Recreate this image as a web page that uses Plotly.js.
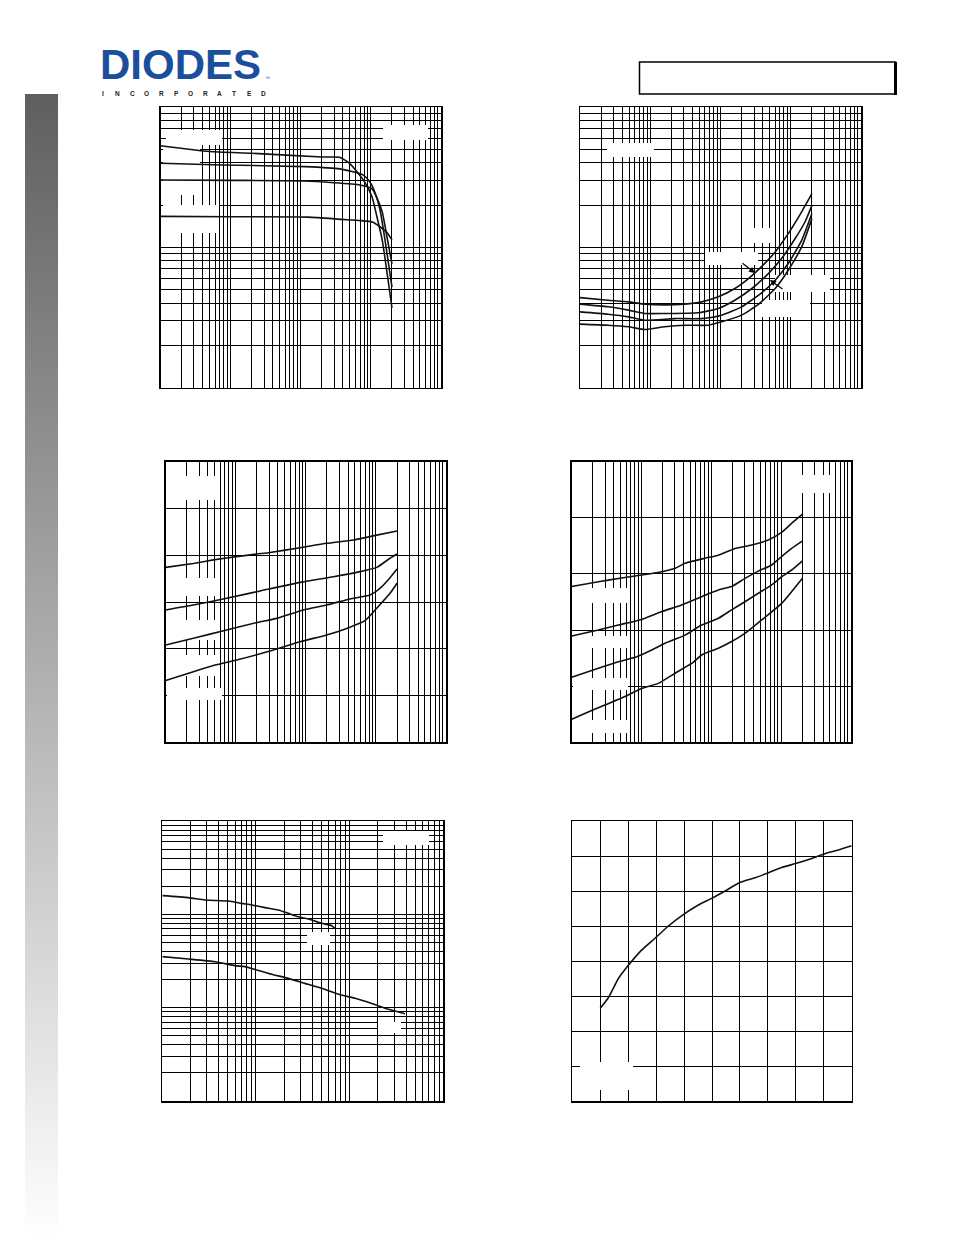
<!DOCTYPE html>
<html><head><meta charset="utf-8">
<script src="https://cdn.plot.ly/plotly-3.0.1.min.js"></script>
<style>
html,body{margin:0;padding:0;background:#fff;}
#wrap{position:relative;width:954px;height:1235px;overflow:hidden;}
#side{position:absolute;left:25px;top:94px;width:33px;height:1141px;background:linear-gradient(#5f5f5f,#fefefe);}
#chart{position:absolute;left:0;top:0;width:954px;height:1235px;}
</style></head>
<body><div id="wrap"><div id="side"></div><div id="chart"></div></div>
<script>
// ---------- DATA ----------
// Chart 1 (log-log): four curves
const c1_ax = [0.1,0.5,2,20,36,50,65,83,104,122,145,170,200];
const c1_ay = [530,482,468,440,438,395,340,288,228,165,113,66,37];
const c1_bx = [0.1,0.75,11.5,36,77,97,115,135,159,200];
const c1_by = [397,386,376,362,328,292,244,185,113,52];
const c1_cx = [0.1,1,11.5,70,104,122,145,170,200];
const c1_cy = [302,300,297,278,261,225,179,118,76];
const c1_dx = [0.1,1,12.8,38.5,70,107,135,170,200];
const c1_dy = [166,165,164,158,155,151,140,127,113];

// Chart 2 (log-log): four curves
const c2_ax = [0.1,0.25,0.49,0.84,1.6,3.1,5.4,9.3,16,25,38,60,92,143,200];
const c2_ay = [0.0437,0.0419,0.0408,0.0393,0.0388,0.0393,0.0408,0.0443,0.0508,0.0598,0.0724,0.0926,0.125,0.179,0.241];
const c2_bx = [0.1,0.25,0.49,0.84,1.6,4.8,9.3,16,28,48,74,115,160,200];
const c2_by = [0.0393,0.0376,0.0356,0.0337,0.0337,0.0341,0.0366,0.0419,0.0508,0.0649,0.083,0.115,0.152,0.199];
const c2_cx = [0.1,0.25,0.49,0.84,2.25,5.4,10.4,20,38.5,60,92,143,200];
const c2_cy = [0.0346,0.0333,0.0319,0.0302,0.031,0.031,0.0328,0.0376,0.0473,0.0582,0.0765,0.112,0.174];
const c2_dx = [0.1,0.25,0.49,0.84,1.6,3.1,6.7,10.4,20,35,60,92,143,200];
const c2_dy = [0.0283,0.0278,0.0271,0.0259,0.0271,0.0278,0.0278,0.0294,0.0328,0.0393,0.0508,0.0686,0.1005,0.160];

// Chart 3 (log x, linear y)
const c3_ax = [0.1,0.248,0.479,1.03,1.99,3.08,8.26,19.8,47.6,102.5,200];
const c3_ay = [0.748,0.765,0.780,0.794,0.805,0.812,0.832,0.851,0.865,0.886,0.904];
const c3_bx = [0.1,0.248,0.741,2.22,8.26,24.7,59.3,102.5,159,200];
const c3_by = [0.566,0.587,0.616,0.647,0.684,0.708,0.730,0.748,0.787,0.805];
const c3_cx = [0.1,0.248,0.741,1.99,3.84,9.2,19.8,42.7,82.4,114,159,200];
const c3_cy = [0.416,0.445,0.480,0.512,0.530,0.566,0.587,0.613,0.630,0.658,0.704,0.741];
const c3_dx = [0.1,0.248,0.479,1.03,3.08,8.26,19.8,38.3,69.8,102.5,159,200];
const c3_dy = [0.264,0.302,0.328,0.352,0.390,0.430,0.459,0.487,0.520,0.573,0.637,0.680];

// Chart 4 (log x, linear y)
const c4_ax = [0.1,0.241,0.466,1.0,1.95,3.02,4.2,8.1,12.6,21.8,37.8,65.5,101.6,141,200];
const c4_ay = [0.555,0.572,0.584,0.596,0.608,0.620,0.638,0.656,0.667,0.691,0.703,0.721,0.748,0.780,0.812];
const c4_bx = [0.1,0.241,0.466,1.0,1.95,3.76,7.28,12.6,19.5,30.3,47.1,73.1,101.6,141,200];
const c4_by = [0.379,0.400,0.418,0.438,0.466,0.489,0.519,0.543,0.555,0.584,0.610,0.632,0.662,0.691,0.717];
const c4_cx = [0.1,0.241,0.466,0.853,1.40,2.17,4.2,7.28,12.6,19.5,30.3,47.1,73.1,101.6,141,200];
const c4_cy = [0.232,0.264,0.287,0.305,0.329,0.353,0.382,0.418,0.442,0.472,0.501,0.531,0.561,0.590,0.614,0.646];
const c4_dx = [0.1,0.193,0.299,0.581,1.0,1.74,3.02,5.23,7.28,12.6,19.5,30.3,52.6,101.6,200];
const c4_dy = [0.082,0.113,0.133,0.163,0.192,0.210,0.246,0.281,0.311,0.335,0.359,0.388,0.436,0.495,0.584];

// Chart 5 (log-log): two curves
const c5_ax = [1,1.9,2.86,5.07,7.03,8.99,12.5,17.3,22.1,28.3,39.3,50.2,64.3,69.7];
const c5_ay = [158.5,151,142.5,139,131,126,118,111,102.5,94.4,86.9,80.1,75.6,70.8];
const c5_bx = [1,1.9,3.65,5.97,7.63,9.75,14.7,22.1,33.3,50.2,75.7,114,172,259,390];
const c5_by = [35.2,33.2,31.1,28.2,27.5,25.7,22.8,20.6,18.2,16.1,13.9,12.6,11.1,9.6,8.6];

// Chart 6 (linear)
const c6_x = [1,1.29,1.65,2.0,2.48,2.96,3.44,3.91,4.51,4.99,5.47,6.01,6.54,7.02,7.49,8.02,8.57,9.02,9.52,10];
const c6_y = [2.65,2.95,3.5,3.87,4.31,4.65,5.0,5.29,5.6,5.79,6.0,6.25,6.38,6.52,6.67,6.79,6.93,7.06,7.17,7.29];

// Logo texts
const logoText = 'DIODES';
const logoSub = 'INCORPORATED';

// ---------- LAYOUT HELPERS ----------
const W = 954, H = 1235;
// plot areas in page pixels: [left, top, right, bottom]
const areas = [
  [160.5,107,441,387.5],
  [580,107,861,387.5],
  [165.7,461.7,446,742.3],
  [571.7,461.7,851,742.3],
  [162.3,821,443.3,1101],
  [572.3,821,851.7,1101]
];
function logTicks(e0,e1){const v=[];for(let e=e0;e<e1;e++){for(let k=1;k<10;k++)v.push(k*Math.pow(10,e));}v.push(Math.pow(10,e1));return v;}
function linTicks(a,b,s){const v=[];for(let t=a;t<=b+1e-9;t+=s)v.push(+t.toFixed(6));return v;}
const axSpec = [
  {xt:'log',xr:[-1,3],xv:logTicks(-1,3), yt:'log',yr:[1,3],yv:logTicks(1,3)},
  {xt:'log',xr:[-1,3],xv:logTicks(-1,3), yt:'log',yr:[-2,0],yv:logTicks(-2,0)},
  {xt:'log',xr:[-1,3],xv:logTicks(-1,3), yt:'linear',yr:[0,1.2],yv:linTicks(0,1.2,0.2)},
  {xt:'log',xr:[-1,3],xv:logTicks(-1,3), yt:'linear',yr:[0,1],yv:linTicks(0,1,0.2)},
  {xt:'log',xr:[0,3],xv:logTicks(0,3), yt:'log',yr:[0,3],yv:logTicks(0,3)},
  {xt:'linear',xr:[0,10],xv:linTicks(0,10,1), yt:'linear',yr:[0,8],yv:linTicks(0,8,1)}
];
const layout = {
  width:W, height:H, margin:{l:0,r:0,t:0,b:0},
  paper_bgcolor:'rgba(0,0,0,0)', plot_bgcolor:'#ffffff',
  showlegend:false, shapes:[], annotations:[]
};
function axisBase(type,range,vals){
  return {type:type, range:range, tickmode:'array', tickvals:vals, showticklabels:false, ticks:'',
    showgrid:true, gridcolor:'#000', gridwidth:1, zeroline:false,
    showline:true, linecolor:'#000', linewidth:1.5, mirror:true, fixedrange:true};
}
areas.forEach((a,i)=>{
  const n = i===0 ? '' : String(i+1);
  const s = axSpec[i];
  const xa = axisBase(s.xt,s.xr,s.xv); xa.domain=[a[0]/W,a[2]/W]; xa.anchor='y'+n;
  const ya = axisBase(s.yt,s.yr,s.yv); ya.domain=[1-a[3]/H,1-a[1]/H]; ya.anchor='x'+n;
  layout['xaxis'+n]=xa; layout['yaxis'+n]=ya;
});
// convert page pixel -> data value of subplot i
function px2x(i,px){const a=areas[i-1],s=axSpec[i-1];const f=(px-a[0])/(a[2]-a[0]);const r=s.xr[0]+f*(s.xr[1]-s.xr[0]);return s.xt==='log'?Math.pow(10,r):r;}
function px2y(i,py){const a=areas[i-1],s=axSpec[i-1];const f=(a[3]-py)/(a[3]-a[1]);const r=s.yr[0]+f*(s.yr[1]-s.yr[0]);return s.yt==='log'?Math.pow(10,r):r;}
// white label boxes (labels blanked in the reference), page pixels
function wbox(i,x0,y0,x1,y1){
  const n = i===1?'':String(i);
  layout.shapes.push({type:'rect', xref:'x'+n, yref:'y'+n,
    x0:px2x(i,x0), x1:px2x(i,x1), y0:px2y(i,y1), y1:px2y(i,y0),
    fillcolor:'#fff', line:{width:0}, layer:'between'});
}
wbox(1,166,130,222,145); wbox(1,163,145,200,195); wbox(1,163,205,219,233); wbox(1,383,125,428,140);
wbox(2,607,143,654,157); wbox(2,705,252,758,265); wbox(2,742,228,775,243); wbox(2,775,275,830,292); wbox(2,762,300,810,317);
wbox(3,167,476,217,500); wbox(3,167,578,217,596); wbox(3,167,620,217,640); wbox(3,167,655,217,676); wbox(3,167,688,222,700);
wbox(4,573,588,628,603); wbox(4,573,636,628,648); wbox(4,573,678,628,690); wbox(4,573,720,628,733); wbox(4,782,475,835,493);
wbox(5,383,831,429,845); wbox(5,307,932,330,945); wbox(5,378,1022,401,1033);
wbox(6,580,1062,633,1090);

// header box
layout.shapes.push({type:'rect',xref:'paper',yref:'paper',x0:639.5/W,x1:895.5/W,y0:1-94/H,y1:1-62/H,line:{color:'#000',width:1.5},fillcolor:'rgba(0,0,0,0)'});
layout.shapes.push({type:'line',xref:'paper',yref:'paper',x0:895.5/W,x1:895.5/W,y0:1-95/H,y1:1-62/H,line:{color:'#000',width:3}});

// arrows in chart 2
layout.annotations.push({xref:'paper',yref:'paper',x:755/W,y:1-273/H,ax:-14,ay:-11,text:'',showarrow:true,arrowhead:2,arrowsize:1,arrowwidth:1.2,arrowcolor:'#000'});
layout.annotations.push({xref:'paper',yref:'paper',x:770/W,y:1-280/H,ax:14,ay:10,text:'',showarrow:true,arrowhead:2,arrowsize:1,arrowwidth:1.2,arrowcolor:'#000'});

// logo
layout.annotations.push({xref:'paper',yref:'paper',x:99/W,y:1-64.5/H,xanchor:'left',yanchor:'middle',showarrow:false,
  height:32,borderpad:0,valign:'middle',
  text:'<b>'+logoText+'</b>',font:{family:'Liberation Sans, Arial, sans-serif',size:42,color:'#1b4f9e'}});
layout.annotations.push({xref:'paper',yref:'paper',x:264/W,y:1-78/H,xanchor:'left',yanchor:'middle',showarrow:false,borderpad:0,
  text:'™',font:{family:'Liberation Sans, Arial, sans-serif',size:5,color:'#1b4f9e'}});
logoSub.split('').forEach((ch,k)=>{
  layout.annotations.push({xref:'paper',yref:'paper',x:(103+k*14.6)/W,y:1-94/H,xanchor:'center',yanchor:'middle',showarrow:false,borderpad:0,
    text:'<b>'+ch+'</b>',font:{family:'Liberation Sans, Arial, sans-serif',size:6.5,color:'#222'}});
});

// ---------- TRACES ----------
const series = [
  [1,c1_ax,c1_ay],[1,c1_bx,c1_by],[1,c1_cx,c1_cy],[1,c1_dx,c1_dy],
  [2,c2_ax,c2_ay],[2,c2_bx,c2_by],[2,c2_cx,c2_cy],[2,c2_dx,c2_dy],
  [3,c3_ax,c3_ay],[3,c3_bx,c3_by],[3,c3_cx,c3_cy],[3,c3_dx,c3_dy],
  [4,c4_ax,c4_ay],[4,c4_bx,c4_by],[4,c4_cx,c4_cy],[4,c4_dx,c4_dy],
  [5,c5_ax,c5_ay],[5,c5_bx,c5_by],
  [6,c6_x,c6_y]
];
const traces = series.map(([i,x,y])=>{
  const n = i===1?'':String(i);
  return {type:'scatter',mode:'lines',x:x,y:y,xaxis:'x'+n,yaxis:'y'+n,
    line:{color:'#111',width:1.6,shape:'spline',smoothing:0.5},hoverinfo:'skip'};
});
Plotly.newPlot('chart',traces,layout,{staticPlot:true,displayModeBar:false});
</script>
</body></html>
